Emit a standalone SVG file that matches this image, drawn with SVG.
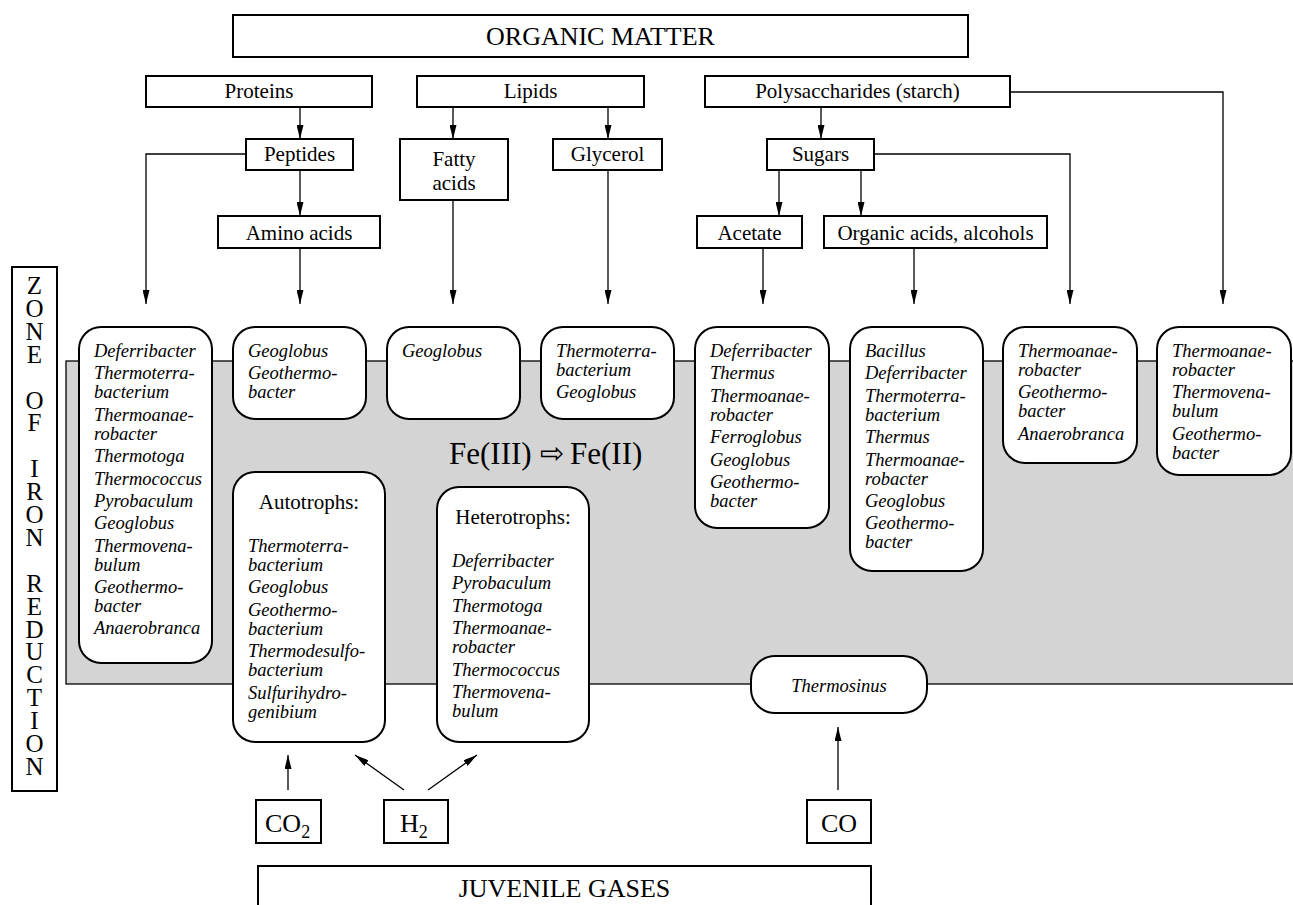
<svg xmlns="http://www.w3.org/2000/svg" width="1293" height="905" viewBox="0 0 1293 905">
<style>
.box{fill:#fff;stroke:#000;stroke-width:2}
.rbox{fill:#fff;stroke:#000;stroke-width:2}
.lbl{font-family:"Liberation Serif","Times New Roman",serif;font-size:21px;fill:#000;text-anchor:middle}
.big{font-family:"Liberation Serif","Times New Roman",serif;font-size:26px;fill:#000;text-anchor:middle}
.sp{font-family:"Liberation Serif","Times New Roman",serif;font-size:18.5px;font-style:italic;fill:#000}
.con{fill:none;stroke:#000;stroke-width:1.3}
.vert{font-family:"Liberation Serif","Times New Roman",serif;font-size:25px;fill:#000;writing-mode:vertical-rl;text-orientation:upright}
</style>
<defs>
<marker id="ah" markerUnits="userSpaceOnUse" markerWidth="14" markerHeight="7" refX="14" refY="3.5" orient="auto">
<path d="M0,0 L14,3.5 L0,7 z" fill="#000"/>
</marker>
</defs>
<rect width="1293" height="905" fill="#fff"/>
<g id="zone-band">
<rect x="66" y="361" width="1240" height="323" fill="#d4d4d4" stroke="#000" stroke-width="1.3"/>
</g>
<g id="zone-label">
<rect class="box" x="12" y="267" width="45" height="524"/>
<text class="vert" x="34.5" y="272" textLength="508" lengthAdjust="spacing">ZONE OF IRON REDUCTION</text>
</g>
<g id="connectors">
<path class="con" d="M300,107 V139" marker-end="url(#ah)"/>
<path class="con" d="M300,170 V216" marker-end="url(#ah)"/>
<path class="con" d="M453,107 V139" marker-end="url(#ah)"/>
<path class="con" d="M608,107 V139" marker-end="url(#ah)"/>
<path class="con" d="M821,107 V139" marker-end="url(#ah)"/>
<path class="con" d="M779,170 V216" marker-end="url(#ah)"/>
<path class="con" d="M861,170 V216" marker-end="url(#ah)"/>
<path class="con" d="M246,154 H146 V304" marker-end="url(#ah)"/>
<path class="con" d="M300,248 V304" marker-end="url(#ah)"/>
<path class="con" d="M453,200 V304" marker-end="url(#ah)"/>
<path class="con" d="M608,170 V304" marker-end="url(#ah)"/>
<path class="con" d="M763,248 V304" marker-end="url(#ah)"/>
<path class="con" d="M914,248 V304" marker-end="url(#ah)"/>
<path class="con" d="M874,154 H1070 V304" marker-end="url(#ah)"/>
<path class="con" d="M1010,92 H1223 V304" marker-end="url(#ah)"/>
<path class="con" d="M288,790 V755" marker-end="url(#ah)"/>
<path class="con" d="M404,790 L355,755" marker-end="url(#ah)"/>
<path class="con" d="M428,790 L477,755" marker-end="url(#ah)"/>
<path class="con" d="M838,790 V727" marker-end="url(#ah)"/>
</g>
<g id="organic-matter"><rect class="box" x="233" y="15" width="735" height="42"/><text class="big" x="600.5" y="45">ORGANIC MATTER</text></g>
<g id="proteins"><rect class="box" x="146" y="76" width="226" height="31"/><text class="lbl" x="259" y="98">Proteins</text></g>
<g id="lipids"><rect class="box" x="417" y="76" width="227" height="31"/><text class="lbl" x="530.5" y="98">Lipids</text></g>
<g id="polysaccharides"><rect class="box" x="705" y="76" width="305" height="31"/><text class="lbl" x="857.5" y="98">Polysaccharides (starch)</text></g>
<g id="peptides"><rect class="box" x="246" y="139" width="107" height="31"/><text class="lbl" x="299.5" y="161">Peptides</text></g>
<g id="fatty-acids"><rect class="box" x="400" y="139" width="108" height="61"/><text class="lbl"><tspan x="454" y="166">Fatty</tspan><tspan x="454" y="189.5">acids</tspan></text></g>
<g id="glycerol"><rect class="box" x="553" y="139" width="109" height="31"/><text class="lbl" x="607.5" y="161">Glycerol</text></g>
<g id="sugars"><rect class="box" x="767" y="139" width="107" height="31"/><text class="lbl" x="820.5" y="161">Sugars</text></g>
<g id="amino-acids"><rect class="box" x="218" y="216" width="162" height="32"/><text class="lbl" x="299" y="240">Amino acids</text></g>
<g id="acetate"><rect class="box" x="697" y="216" width="105" height="32"/><text class="lbl" x="749.5" y="240">Acetate</text></g>
<g id="organic-acids"><rect class="box" x="824" y="216" width="223" height="32"/><text class="lbl" x="935.5" y="240">Organic acids, alcohols</text></g>

<g id="n-peptides-org"><rect class="rbox" x="79" y="327" width="133" height="336" rx="22"/>
<text class="sp"><tspan x="94" y="357">Deferribacter</tspan><tspan x="94" y="379">Thermoterra-</tspan><tspan x="94" y="398">bacterium</tspan><tspan x="94" y="421">Thermoanae-</tspan><tspan x="94" y="440">robacter</tspan><tspan x="94" y="462">Thermotoga</tspan><tspan x="94" y="484.5">Thermococcus</tspan><tspan x="94" y="507">Pyrobaculum</tspan><tspan x="94" y="529">Geoglobus</tspan><tspan x="94" y="551.5">Thermovena-</tspan><tspan x="94" y="570.5">bulum</tspan><tspan x="94" y="593">Geothermo-</tspan><tspan x="94" y="612">bacter</tspan><tspan x="94" y="634">Anaerobranca</tspan></text></g>
<g id="n-amino-org"><rect class="rbox" x="233" y="327" width="133" height="92" rx="22"/>
<text class="sp"><tspan x="248" y="357">Geoglobus</tspan><tspan x="248" y="379.4">Geothermo-</tspan><tspan x="248" y="398.4">bacter</tspan></text></g>
<g id="n-fatty-org"><rect class="rbox" x="387" y="327" width="133" height="92" rx="22"/>
<text class="sp"><tspan x="402" y="357">Geoglobus</tspan></text></g>
<g id="n-glycerol-org"><rect class="rbox" x="541" y="327" width="133" height="92" rx="22"/>
<text class="sp"><tspan x="556" y="357">Thermoterra-</tspan><tspan x="556" y="376">bacterium</tspan><tspan x="556" y="398.4">Geoglobus</tspan></text></g>
<g id="n-acetate-org"><rect class="rbox" x="695" y="327" width="134" height="201" rx="22"/>
<text class="sp"><tspan x="710" y="357">Deferribacter</tspan><tspan x="710" y="379.4">Thermus</tspan><tspan x="710" y="401.8">Thermoanae-</tspan><tspan x="710" y="420.8">robacter</tspan><tspan x="710" y="443.2">Ferroglobus</tspan><tspan x="710" y="465.6">Geoglobus</tspan><tspan x="710" y="488">Geothermo-</tspan><tspan x="710" y="507">bacter</tspan></text></g>
<g id="n-organic-acids-org"><rect class="rbox" x="850" y="327" width="133" height="244" rx="22"/>
<text class="sp"><tspan x="865" y="357">Bacillus</tspan><tspan x="865" y="379.4">Deferribacter</tspan><tspan x="865" y="401.8">Thermoterra-</tspan><tspan x="865" y="420.8">bacterium</tspan><tspan x="865" y="443.2">Thermus</tspan><tspan x="865" y="465.6">Thermoanae-</tspan><tspan x="865" y="484.6">robacter</tspan><tspan x="865" y="507">Geoglobus</tspan><tspan x="865" y="529.4">Geothermo-</tspan><tspan x="865" y="548.4">bacter</tspan></text></g>
<g id="n-sugars-org"><rect class="rbox" x="1003" y="327" width="134" height="136" rx="22"/>
<text class="sp"><tspan x="1018" y="357">Thermoanae-</tspan><tspan x="1018" y="376">robacter</tspan><tspan x="1018" y="398.4">Geothermo-</tspan><tspan x="1018" y="417.4">bacter</tspan><tspan x="1018" y="439.8">Anaerobranca</tspan></text></g>
<g id="n-starch-org"><rect class="rbox" x="1157" y="327" width="134" height="148" rx="22"/>
<text class="sp"><tspan x="1172" y="357">Thermoanae-</tspan><tspan x="1172" y="376">robacter</tspan><tspan x="1172" y="398.4">Thermovena-</tspan><tspan x="1172" y="417.4">bulum</tspan><tspan x="1172" y="439.8">Geothermo-</tspan><tspan x="1172" y="458.8">bacter</tspan></text></g>

<g id="fe-reaction"><text font-family="Liberation Serif,Times New Roman,serif" font-size="31" fill="#000"><tspan x="449" y="464">Fe(III)</tspan><tspan x="540" y="463" font-family="DejaVu Sans,sans-serif" font-size="29">⇨</tspan><tspan x="570" y="464">Fe(II)</tspan></text></g>

<g id="autotrophs"><rect class="rbox" x="233" y="472" width="152" height="270" rx="22"/>
<text class="lbl" x="309" y="509">Autotrophs:</text>
<text class="sp"><tspan x="248" y="552">Thermoterra-</tspan><tspan x="248" y="571">bacterium</tspan><tspan x="248" y="593.4">Geoglobus</tspan><tspan x="248" y="615.8">Geothermo-</tspan><tspan x="248" y="634.8">bacterium</tspan><tspan x="248" y="657.2">Thermodesulfo-</tspan><tspan x="248" y="676.2">bacterium</tspan><tspan x="248" y="698.6">Sulfurihydro-</tspan><tspan x="248" y="717.6">genibium</tspan></text></g>
<g id="heterotrophs"><rect class="rbox" x="437" y="487" width="152" height="255" rx="22"/>
<text class="lbl" x="513" y="524">Heterotrophs:</text>
<text class="sp"><tspan x="452" y="567">Deferribacter</tspan><tspan x="452" y="589.4">Pyrobaculum</tspan><tspan x="452" y="611.8">Thermotoga</tspan><tspan x="452" y="634.2">Thermoanae-</tspan><tspan x="452" y="653.2">robacter</tspan><tspan x="452" y="675.6">Thermococcus</tspan><tspan x="452" y="698">Thermovena-</tspan><tspan x="452" y="717">bulum</tspan></text></g>
<g id="thermosinus"><rect class="rbox" x="751" y="656" width="176" height="57" rx="24"/>
<text class="sp" x="839" y="692" text-anchor="middle">Thermosinus</text></g>

<g id="co2"><rect class="box" x="256" y="800" width="65" height="43"/><text font-family="Liberation Serif,Times New Roman,serif" font-size="26" fill="#000"><tspan x="265" y="832">CO</tspan><tspan font-size="18" dy="6">2</tspan></text></g>
<g id="h2"><rect class="box" x="384" y="800" width="64" height="43"/><text font-family="Liberation Serif,Times New Roman,serif" font-size="26" fill="#000"><tspan x="400" y="832">H</tspan><tspan font-size="18" dy="6">2</tspan></text></g>
<g id="co"><rect class="box" x="807" y="800" width="64" height="43"/><text class="big" x="839" y="832">CO</text></g>
<g id="juvenile-gases"><rect class="box" x="258" y="866" width="613" height="60"/><text class="big" font-size="27" x="564.5" y="897">JUVENILE GASES</text></g>
</svg>
